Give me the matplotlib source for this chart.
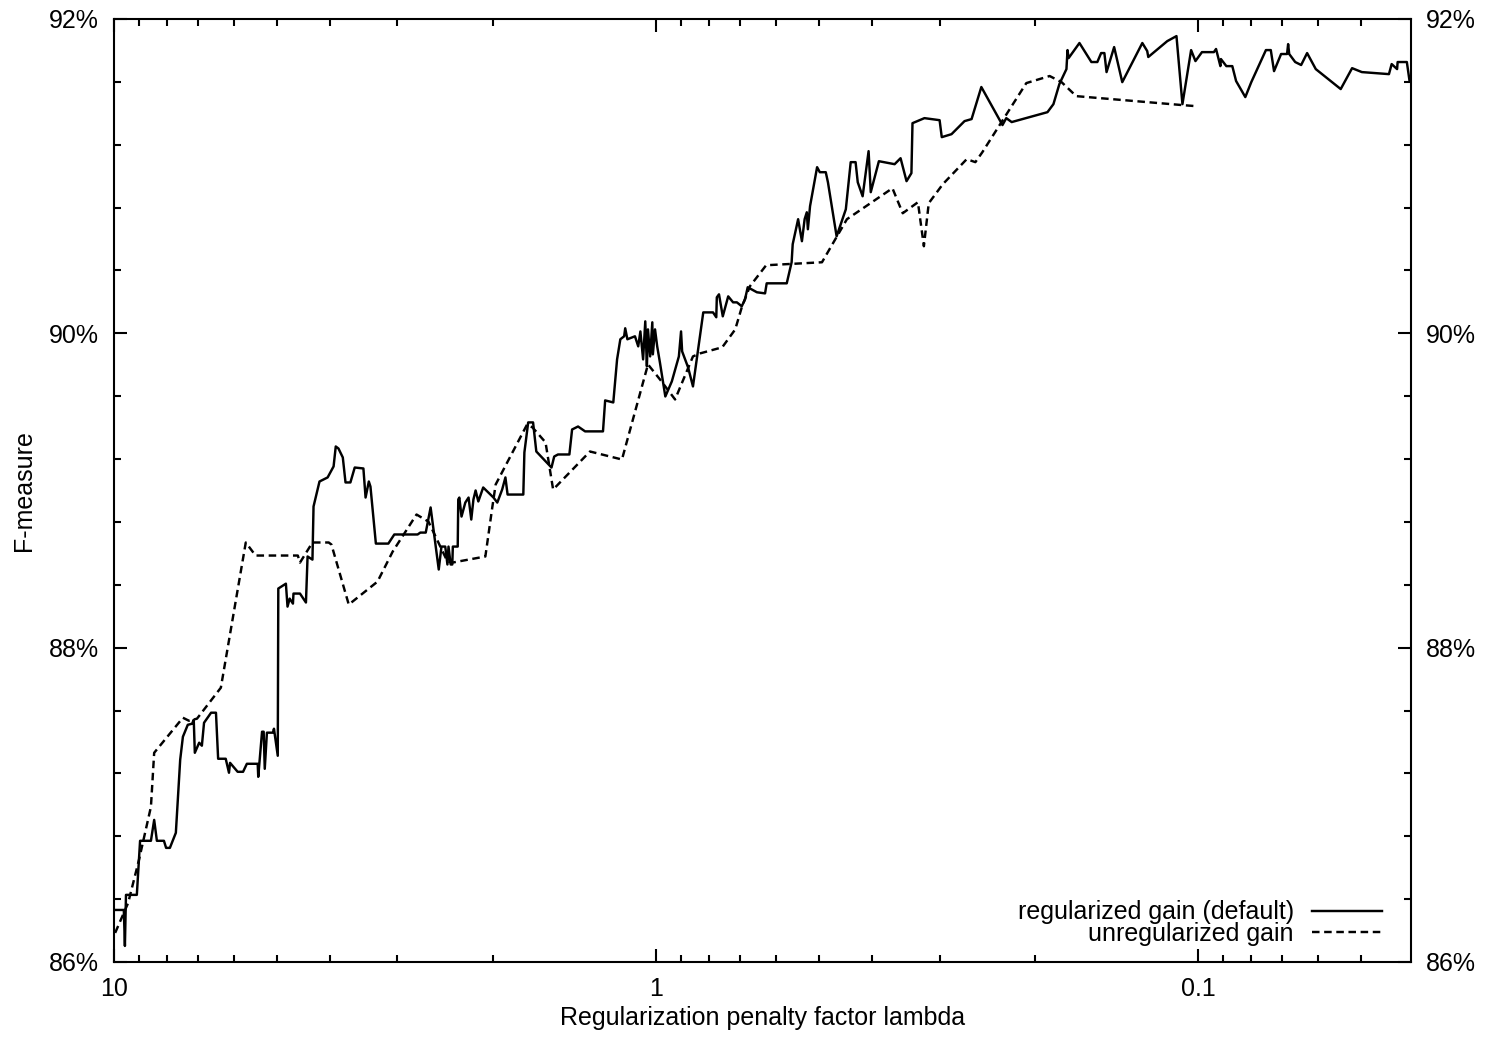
import matplotlib
matplotlib.use("Agg")
import matplotlib.pyplot as plt
from matplotlib.ticker import FixedLocator, LogLocator, NullFormatter, MultipleLocator, FuncFormatter
import numpy as np

plt.rcParams['font.family'] = ['Liberation Sans', 'DejaVu Sans']
plt.rcParams['font.size'] = 18

# log10(lambda) and F-measure (%)
reg_loglam = [
    0.998, 0.982, 0.980, 0.978, 0.958, 0.952, 0.932, 0.926, 0.921, 0.908,
    0.904, 0.897, 0.886, 0.878, 0.873, 0.864, 0.856, 0.853, 0.851, 0.843,
    0.838, 0.834, 0.821, 0.812, 0.808, 0.794, 0.788, 0.786, 0.772, 0.762,
    0.755, 0.735, 0.734, 0.727, 0.724, 0.722, 0.718, 0.707, 0.705, 0.698,
    0.697, 0.683, 0.680, 0.676, 0.670, 0.669, 0.657, 0.646, 0.643, 0.634,
    0.632, 0.621, 0.606, 0.595, 0.591, 0.586, 0.578, 0.573, 0.564, 0.556,
    0.540, 0.536, 0.530, 0.527, 0.517, 0.494, 0.483, 0.440, 0.435, 0.425,
    0.416, 0.401, 0.396, 0.389, 0.385, 0.383, 0.379, 0.376, 0.375, 0.366,
    0.365, 0.363, 0.359, 0.352, 0.346, 0.341, 0.337, 0.333, 0.328, 0.319,
    0.300, 0.293, 0.284, 0.278, 0.274, 0.245, 0.243, 0.236, 0.227, 0.221,
    0.193, 0.188, 0.181, 0.160, 0.155, 0.144, 0.131, 0.098, 0.094, 0.079,
    0.072, 0.066, 0.059, 0.057, 0.053, 0.039, 0.033, 0.029, 0.024, 0.020,
    0.017, 0.015, 0.011, 0.007, 0.006, 0.002, -0.002, -0.007, -0.017, -0.029,
    -0.042, -0.046, -0.048, -0.059, -0.068, -0.087, -0.105, -0.111, -0.112, -0.116,
    -0.123, -0.133, -0.142, -0.149, -0.158, -0.164, -0.169, -0.186, -0.201, -0.204,
    -0.241, -0.250, -0.252, -0.262, -0.269, -0.274, -0.278, -0.280, -0.284, -0.297,
    -0.302, -0.313, -0.317, -0.333, -0.350, -0.359, -0.368, -0.372, -0.381, -0.392,
    -0.396, -0.411, -0.440, -0.451, -0.462, -0.471, -0.473, -0.495, -0.523, -0.527,
    -0.545, -0.569, -0.582, -0.600, -0.639, -0.646, -0.656, -0.722, -0.733, -0.744,
    -0.757, -0.759, -0.761, -0.781, -0.803, -0.814, -0.821, -0.827, -0.831, -0.845,
    -0.860, -0.897, -0.906, -0.908, -0.943, -0.960, -0.971, -0.987, -0.995, -1.007,
    -1.029, -1.033, -1.041, -1.042, -1.052, -1.063, -1.070, -1.087, -1.098, -1.125,
    -1.134, -1.140, -1.153, -1.164, -1.166, -1.168, -1.179, -1.190, -1.201, -1.217,
    -1.263, -1.284, -1.302, -1.352, -1.357, -1.367, -1.368, -1.385, -1.390,
]
reg_f = [
    86.331, 86.331, 86.102, 86.427, 86.427, 86.771, 86.771, 86.904, 86.771, 86.771,
    86.726, 86.726, 86.822, 87.287, 87.433, 87.509, 87.516, 87.541, 87.331, 87.395,
    87.376, 87.522, 87.586, 87.586, 87.293, 87.293, 87.204, 87.267, 87.210, 87.210,
    87.261, 87.261, 87.178, 87.465, 87.465, 87.229, 87.459, 87.459, 87.484, 87.312,
    88.376, 88.407, 88.261, 88.312, 88.280, 88.344, 88.344, 88.287, 88.580, 88.560,
    88.898, 89.057, 89.083, 89.153, 89.280, 89.267, 89.210, 89.051, 89.051, 89.146,
    89.140, 88.955, 89.057, 89.025, 88.662, 88.662, 88.720, 88.720, 88.732, 88.732,
    88.892, 88.497, 88.643, 88.643, 88.529, 88.643, 88.529, 88.529, 88.643, 88.643,
    88.943, 88.955, 88.834, 88.923, 88.955, 88.815, 88.943, 89.000, 88.930, 89.019,
    88.955, 88.923, 89.006, 89.083, 88.974, 88.974, 89.242, 89.433, 89.433, 89.248,
    89.146, 89.216, 89.229, 89.229, 89.388, 89.407, 89.376, 89.376, 89.573, 89.560,
    89.834, 89.962, 89.981, 90.032, 89.962, 89.981, 89.917, 90.012, 89.834, 90.076,
    89.790, 90.025, 89.853, 90.070, 89.866, 90.025, 89.917, 89.815, 89.598, 89.694,
    89.853, 90.012, 89.885, 89.783, 89.662, 90.133, 90.133, 90.102, 90.229, 90.248,
    90.108, 90.235, 90.197, 90.197, 90.172, 90.216, 90.293, 90.261, 90.254, 90.318,
    90.318, 90.452, 90.567, 90.726, 90.586, 90.726, 90.770, 90.662, 90.809, 91.057,
    91.025, 91.025, 90.961, 90.617, 90.789, 91.089, 91.089, 90.961, 90.872, 91.159,
    90.898, 91.095, 91.076, 91.114, 90.968, 91.019, 91.337, 91.369, 91.356, 91.248,
    91.267, 91.350, 91.363, 91.567, 91.325, 91.369, 91.344, 91.407, 91.458, 91.586,
    91.681, 91.802, 91.751, 91.847, 91.726, 91.726, 91.783, 91.783, 91.662, 91.821,
    91.598, 91.847, 91.796, 91.758, 91.859, 91.891, 91.458, 91.802, 91.732, 91.789,
    91.789, 91.809, 91.700, 91.745, 91.700, 91.700, 91.605, 91.503, 91.598, 91.802,
    91.802, 91.668, 91.777, 91.777, 91.840, 91.777, 91.726, 91.707, 91.783, 91.681,
    91.554, 91.687, 91.662, 91.649, 91.713, 91.681, 91.726, 91.726, 91.605,
]

unreg_loglam = [
    0.998, 0.974, 0.954, 0.932, 0.926, 0.873, 0.862, 0.847, 0.803, 0.757,
    0.739, 0.661, 0.657, 0.634, 0.604, 0.599, 0.567, 0.514, 0.486, 0.442,
    0.420, 0.385, 0.376, 0.315, 0.302, 0.296, 0.238, 0.228, 0.204, 0.190,
    0.122, 0.063, 0.015, -0.007, -0.035, -0.068, -0.081, -0.122, -0.146, -0.158,
    -0.173, -0.203, -0.306, -0.352, -0.436, -0.455, -0.483, -0.494, -0.503, -0.529,
    -0.573, -0.589, -0.602, -0.683, -0.726, -0.748, -0.775, -0.971, -0.993,
]
unreg_f = [
    86.185, 86.376, 86.650, 86.987, 87.331, 87.554, 87.535, 87.548, 87.745, 88.669,
    88.586, 88.586, 88.541, 88.669, 88.669, 88.656, 88.274, 88.420, 88.611, 88.847,
    88.802, 88.548, 88.541, 88.580, 88.898, 89.038, 89.420, 89.401, 89.306, 89.006,
    89.248, 89.197, 89.802, 89.707, 89.579, 89.853, 89.872, 89.911, 90.025, 90.165,
    90.299, 90.433, 90.452, 90.726, 90.923, 90.764, 90.834, 90.554, 90.828, 90.949,
    91.108, 91.089, 91.153, 91.592, 91.637, 91.598, 91.509, 91.452, 91.446,
]

x_major = [10, 1, 0.1]
x_major_labels = ['10', '1', '0.1']

reg_lam = 10.0 ** np.array(reg_loglam)
unreg_lam = 10.0 ** np.array(unreg_loglam)

fig = plt.figure(figsize=(14.91, 10.42), dpi=100)
ax = fig.add_axes([0.0765, 0.0768, 0.8698, 0.905])

ax.plot(reg_lam, reg_f, color='black', lw=1.75, label='regularized gain (default)')
ax.plot(unreg_lam, unreg_f, color='black', lw=1.75, dashes=(3.1, 1.9),
        label='unregularized gain')

ax.set_xscale('log')
ax.set_xlim(10, 0.0405)
ax.set_ylim(86, 92)

ax.xaxis.set_major_locator(FixedLocator(x_major))
ax.set_xticklabels(x_major_labels)
ax.xaxis.set_minor_locator(LogLocator(base=10, subs=np.arange(2, 10)))
ax.xaxis.set_minor_formatter(NullFormatter())

ax.yaxis.set_major_locator(MultipleLocator(2))
ax.yaxis.set_minor_locator(MultipleLocator(0.4))
ax.yaxis.set_major_formatter(FuncFormatter(lambda v, p: '%d%%' % round(v)))

ax.tick_params(which='both', direction='in', top=True, right=True,
               labelright=True, width=1.5, color='black')
ax.tick_params(which='major', length=9.5)
ax.tick_params(which='minor', length=5)
ax.tick_params(axis='y', which='major', pad=11)
ax.tick_params(axis='x', which='major', pad=10.5)
for s in ax.spines.values():
    s.set_linewidth(1.5)

ax.set_xlabel('Regularization penalty factor lambda', labelpad=4)
ax.set_ylabel('F-measure', labelpad=9)

ax.legend(loc='lower right', bbox_to_anchor=(0.978, 0.017), markerfirst=False,
          frameon=False, handlelength=2.8, handletextpad=0.75,
          labelspacing=-0.1, borderaxespad=0, borderpad=0)

fig.savefig('out.png', dpi=100)
